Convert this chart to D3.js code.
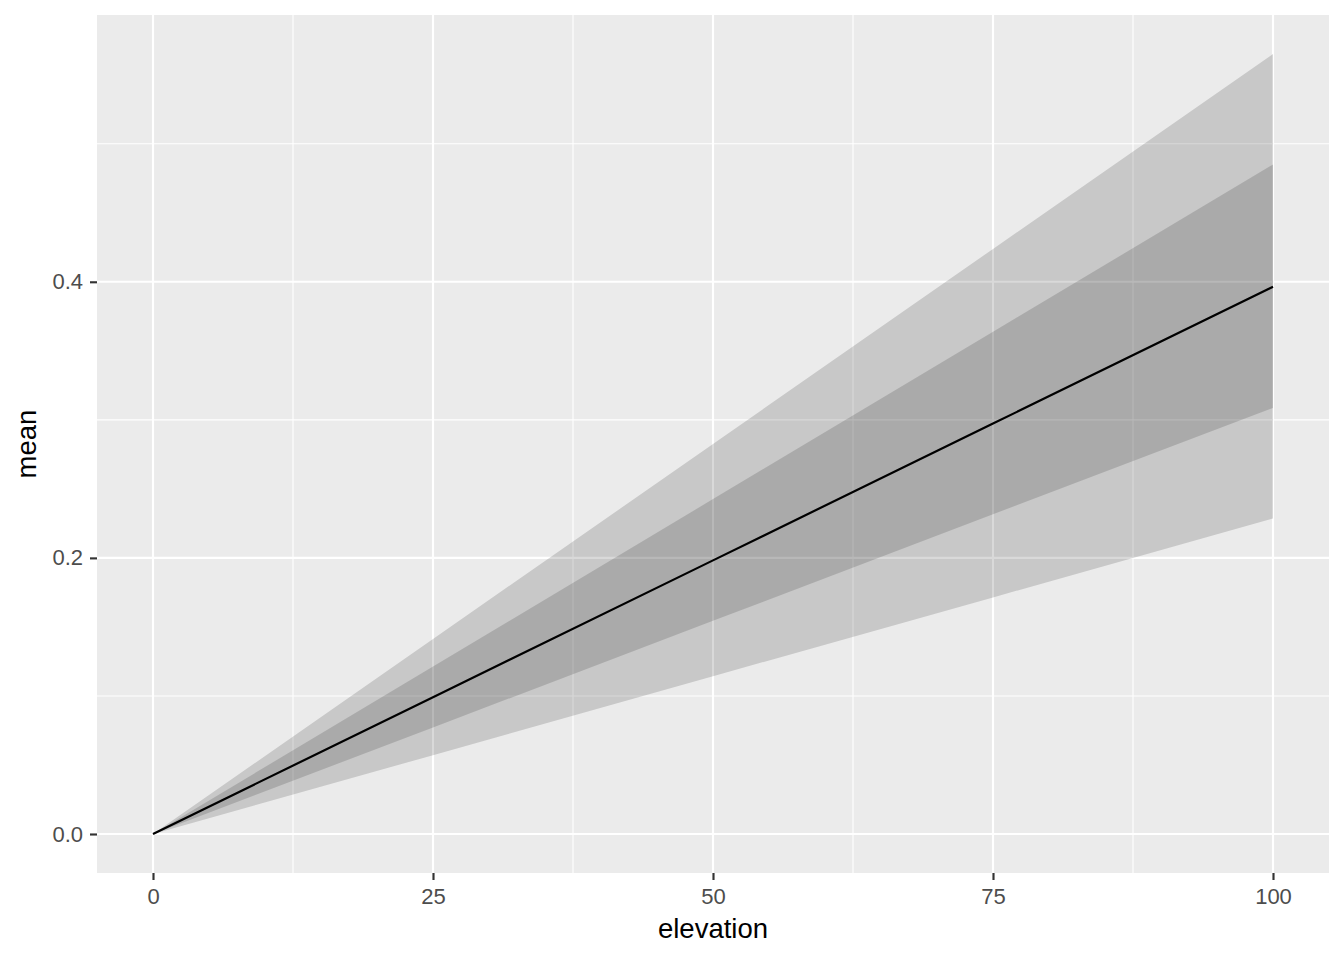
<!DOCTYPE html>
<html><head><meta charset="utf-8">
<script src="https://cdn.jsdelivr.net/npm/d3@7"></script>
<style>body{margin:0;background:#fff}svg{display:block}</style>
</head><body>
<script>
const elevation = [0, 25, 50, 75, 100];
const meanVals  = [0, 0.0991, 0.1982, 0.2973, 0.3964];
const innerLow  = [0, 0.0772, 0.1544, 0.2316, 0.3086];
const innerHigh = [0, 0.1213, 0.2426, 0.3638, 0.4850];
const outerLow  = [0, 0.0571, 0.1143, 0.1714, 0.2286];
const outerHigh = [0, 0.1413, 0.2825, 0.4238, 0.5650];
const xTicks = [0, 25, 50, 75, 100];
const xMinor = [12.5, 37.5, 62.5, 87.5];
const yTicks = [0, 0.2, 0.4];
const yMinor = [0.1, 0.3, 0.5];

const W = 1344, H = 960;
const P = {l: 97, r: 1329, t: 15, b: 873};
const data = elevation.map((e, i) => ({x: e, m: meanVals[i], il: innerLow[i], ih: innerHigh[i], ol: outerLow[i], oh: outerHigh[i]}));

const xr = [0, 100], yr = [0, d3.max(outerHigh)];
const xs = d3.scaleLinear().domain([xr[0] - 0.05*(xr[1]-xr[0]), xr[1] + 0.05*(xr[1]-xr[0])]).range([P.l, P.r]);
const ys = d3.scaleLinear().domain([yr[0] - 0.05*(yr[1]-yr[0]), yr[1] + 0.05*(yr[1]-yr[0])]).range([P.b, P.t]);

const svg = d3.select("body").append("svg").attr("width", W).attr("height", H);
svg.append("rect").attr("width", W).attr("height", H).attr("fill", "#fff");
svg.append("rect").attr("x", P.l).attr("y", P.t).attr("width", P.r-P.l).attr("height", P.b-P.t).attr("fill", "#EBEBEB");

const g = svg.append("g");
yMinor.forEach(v => g.append("line").attr("x1", P.l).attr("x2", P.r).attr("y1", ys(v)).attr("y2", ys(v)).attr("stroke", "#fff").attr("stroke-width", 1.07));
xMinor.forEach(v => g.append("line").attr("y1", P.t).attr("y2", P.b).attr("x1", xs(v)).attr("x2", xs(v)).attr("stroke", "#fff").attr("stroke-width", 1.07));
yTicks.forEach(v => g.append("line").attr("x1", P.l).attr("x2", P.r).attr("y1", ys(v)).attr("y2", ys(v)).attr("stroke", "#fff").attr("stroke-width", 2.13));
xTicks.forEach(v => g.append("line").attr("y1", P.t).attr("y2", P.b).attr("x1", xs(v)).attr("x2", xs(v)).attr("stroke", "#fff").attr("stroke-width", 2.13));

const areaO = d3.area().x(d => xs(d.x)).y0(d => ys(d.ol)).y1(d => ys(d.oh));
const areaI = d3.area().x(d => xs(d.x)).y0(d => ys(d.il)).y1(d => ys(d.ih));
svg.append("path").datum(data).attr("d", areaO).attr("fill", "#000").attr("fill-opacity", 0.15);
svg.append("path").datum(data).attr("d", areaI).attr("fill", "#000").attr("fill-opacity", 0.15);
svg.append("path").datum(data).attr("d", d3.line().x(d => xs(d.x)).y(d => ys(d.m))).attr("fill", "none").attr("stroke", "#000").attr("stroke-width", 2.2);

const font = "'Liberation Sans', Arial, sans-serif";
const xAxis = svg.append("g").attr("transform", `translate(0,${P.b})`)
  .call(d3.axisBottom(xs).tickValues(xTicks).tickSize(7).tickPadding(8).tickFormat(d3.format("d")));
const yAxis = svg.append("g").attr("transform", `translate(${P.l},0)`)
  .call(d3.axisLeft(ys).tickValues(yTicks).tickSize(7).tickPadding(7).tickFormat(d3.format(".1f")));
[xAxis, yAxis].forEach(a => {
  a.select(".domain").remove();
  a.selectAll(".tick line").attr("stroke", "#333").attr("stroke-width", 2.13);
  a.selectAll(".tick text").attr("fill", "#4D4D4D").style("font-family", font).style("font-size", "22px");
});

svg.append("text").attr("x", (P.l+P.r)/2).attr("y", 938).attr("text-anchor", "middle")
  .style("font-family", font).style("font-size", "27.5px").attr("fill", "#000").text("elevation");
svg.append("text").attr("transform", `translate(36,${(P.t+P.b)/2}) rotate(-90)`).attr("text-anchor", "middle")
  .style("font-family", font).style("font-size", "27.5px").attr("fill", "#000").text("mean");
</script>
</body></html>
